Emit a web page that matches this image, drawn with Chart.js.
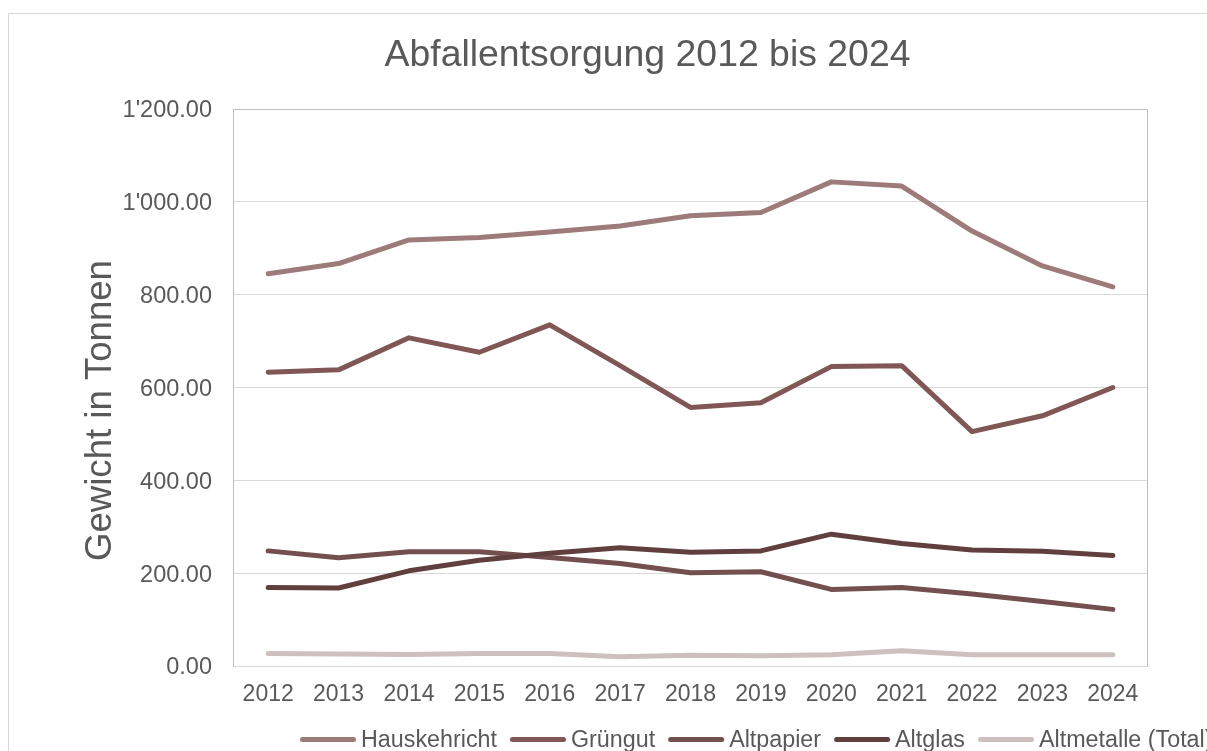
<!DOCTYPE html>
<html>
<head>
<meta charset="utf-8">
<script src="https://cdn.jsdelivr.net/npm/chart.js@4.4.1/dist/chart.umd.min.js"></script>
<style>
html,body{margin:0;padding:0;background:#fff;overflow:hidden;}
#wrap{position:relative;width:1207px;height:751px;}
canvas{display:block;}
</style>
</head>
<body>
<div id="wrap"><canvas id="c" width="1207" height="751"></canvas></div>
<script>
const categories = ['2012','2013','2014','2015','2016','2017','2018','2019','2020','2021','2022','2023','2024'];
const hauskehricht = [845, 867, 918, 923, 935, 948, 970, 977, 1043, 1034, 937, 862, 817];
const gruengut     = [633, 638, 707, 676, 735, 647, 557, 567, 645, 647, 505, 539, 600];
const altpapier    = [248, 233, 246, 246, 234, 221, 201, 203, 165, 169, 155, 139, 122];
const altglas      = [169, 168, 205, 228, 243, 255, 245, 248, 284, 264, 250, 247, 238];
const altmetalle   = [27, 26, 25, 27, 27, 20, 23, 22, 24, 33, 24, 24, 24];
const seriesNames  = ['Hauskehricht', 'Grüngut', 'Altpapier', 'Altglas', 'Altmetalle (Total)'];
const seriesColors = ['#9c7b7a', '#815756', '#744f4f', '#623f3f', '#cdc0bf'];
const seriesValues = [hauskehricht, gruengut, altpapier, altglas, altmetalle];
const yTickValues  = [0, 200, 400, 600, 800, 1000, 1200];
const chartTitle   = 'Abfallentsorgung 2012 bis 2024';
const yAxisTitle   = 'Gewicht in Tonnen';

const FONT = '"Liberation Sans", Arial, sans-serif';
const TEXT = '#595959';

function fmt(v) {
  const s = Number(v).toFixed(2);
  const parts = s.split('.');
  return parts[0].replace(/\B(?=(\d{3})+(?!\d))/g, "'") + '.' + parts[1];
}

const decor = {
  id: 'decor',
  beforeDraw(chart) {
    const ctx = chart.ctx;
    ctx.save();
    ctx.strokeStyle = '#d9d9d9';
    ctx.lineWidth = 1;
    ctx.strokeRect(8.5, 13.5, 1400, 900);
    ctx.restore();
  },
  beforeDatasetsDraw(chart) {
    const ctx = chart.ctx;
    const a = chart.chartArea;
    const l = Math.round(a.left) + 0.5, r = Math.round(a.right) - 0.5;
    const t = Math.round(a.top) + 0.5;
    ctx.save();
    ctx.strokeStyle = '#bfbfbf';
    ctx.lineWidth = 1;
    ctx.beginPath();
    ctx.moveTo(l, t); ctx.lineTo(r, t);
    ctx.moveTo(r, t); ctx.lineTo(r, Math.round(a.bottom));
    ctx.stroke();
    ctx.restore();
  },
  afterDraw(chart) {
    const ctx = chart.ctx;
    ctx.save();
    ctx.fillStyle = TEXT;
    // title
    ctx.font = '37.4px ' + FONT;
    ctx.textAlign = 'center';
    ctx.textBaseline = 'alphabetic';
    ctx.fillText(chartTitle, 647.5, 66);
    // y axis title
    ctx.save();
    ctx.translate(110.5, 410.5);
    ctx.rotate(-Math.PI / 2);
    ctx.font = '36.6px ' + FONT;
    ctx.fillText(yAxisTitle, 0, 0);
    ctx.restore();
    // legend
    ctx.font = '23.3px ' + FONT;
    ctx.textAlign = 'left';
    ctx.textBaseline = 'middle';
    let x = 300;
    chart.data.datasets.forEach((ds) => {
      ctx.strokeStyle = ds.borderColor;
      ctx.lineWidth = 5;
      ctx.lineCap = 'round';
      ctx.beginPath();
      ctx.moveTo(x + 2.5, 739.5);
      ctx.lineTo(x + 53.5, 739.5);
      ctx.stroke();
      ctx.fillStyle = TEXT;
      ctx.fillText(ds.label, x + 61, 741);
      x += 61 + ctx.measureText(ds.label).width + 13;
    });
    ctx.restore();
  }
};

const datasets = seriesNames.map((name, i) => ({
  label: name,
  data: seriesValues[i],
  borderColor: seriesColors[i],
  backgroundColor: seriesColors[i],
  borderWidth: 5,
  borderCapStyle: 'round',
  borderJoinStyle: 'round',
  pointRadius: 0,
  pointHoverRadius: 0,
  tension: 0,
  fill: false,
  order: seriesNames.length - 1 - i
}));

new Chart(document.getElementById('c'), {
  type: 'line',
  data: { labels: categories, datasets: datasets },
  plugins: [decor],
  options: {
    responsive: false,
    animation: false,
    events: [],
    layout: { padding: { left: 8, top: 109, right: 1207 - 1148, bottom: 40 } },
    plugins: { legend: { display: false }, title: { display: false }, tooltip: { enabled: false } },
    scales: {
      x: {
        type: 'category',
        offset: true,
        grid: { display: false, drawTicks: false },
        border: { display: true, color: '#d9d9d9', width: 1 },
        ticks: { color: TEXT, font: { family: FONT, size: 23 }, padding: 15, maxRotation: 0, autoSkip: false },
        afterFit(s) { s.height = 751 - 40 - 666; }
      },
      y: {
        min: 0,
        max: 1200,
        afterBuildTicks(s) { s.ticks = yTickValues.map(v => ({ value: v })); },
        grid: { color: '#d9d9d9', drawTicks: false, lineWidth: 1 },
        border: { display: true, color: '#bfbfbf', width: 1 },
        ticks: { color: TEXT, font: { family: FONT, size: 23.5 }, padding: 21, labelOffset: 2, callback: (v) => fmt(v) },
        afterFit(s) { s.width = 233 - 8; }
      }
    }
  }
});
</script>
</body>
</html>
